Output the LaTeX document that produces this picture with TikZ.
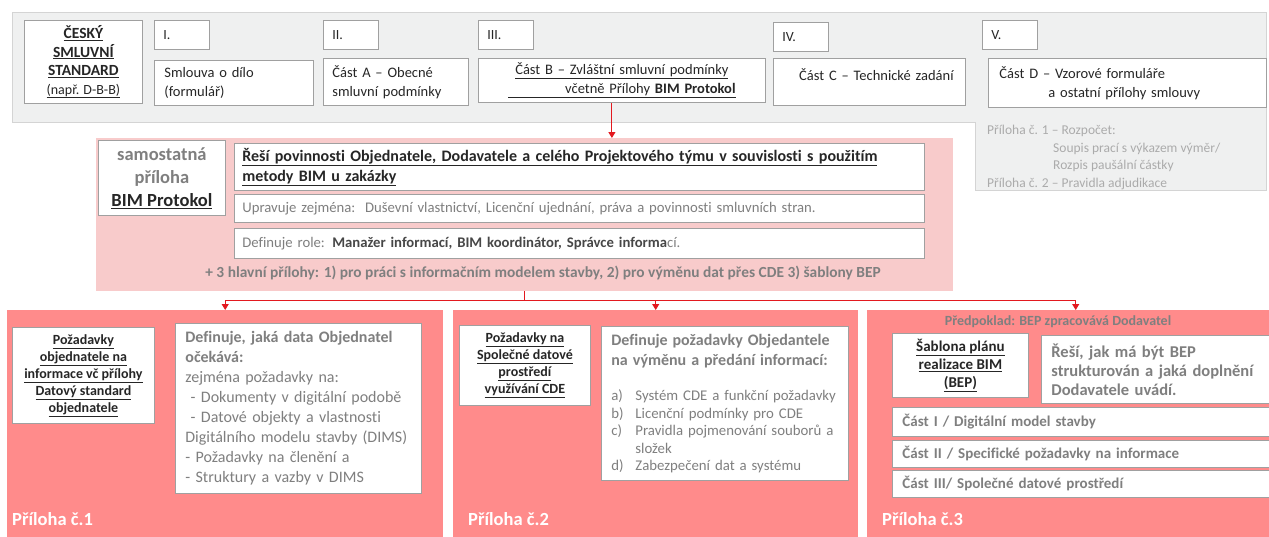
\documentclass[tikz,border=0pt]{standalone}
\usepackage{fontspec}
\setmainfont{Carlito}[Ligatures={NoCommon}]
\usetikzlibrary{arrows.meta}
\definecolor{bggray}{HTML}{EFF0F0}
\definecolor{bgline}{HTML}{D4D4D4}
\definecolor{lightpink}{HTML}{F8CBCB}
\definecolor{salmon}{HTML}{FF8B8B}
\definecolor{linered}{HTML}{E3191F}
\definecolor{boxline}{HTML}{A0A0A0}
\definecolor{txtgray}{HTML}{7F7F7F}
\definecolor{txtlight}{HTML}{ABABAB}
\definecolor{txtdark}{HTML}{262626}
\newcommand\fsz[2]{\fontsize{#1}{#2}\selectfont}

\begin{document}
\begin{tikzpicture}[x=1pt,y=-1pt,
    box/.style={draw=boxline, fill=white, line width=0.8pt, anchor=north west,
      inner ysep=0pt, text=txtdark},
    wh/.style n args={2}{minimum width=#1pt, minimum height=#2pt},
    romanbox/.style={box, wh={55}{29}, inner xsep=9pt, text width=37pt,
      align=left, font=\fsz{14}{17}},
    panel/.style={fill=salmon, anchor=north west, inner sep=0pt},
    panellabel/.style={anchor=west, inner sep=0pt, text=white,
      font=\bfseries\fsz{18.5}{22}},
    redline/.style={draw=linered, line width=1pt},
    redarrow/.style={redline, -{Triangle[width=7pt,length=6pt]}}]
  \useasboundingbox (0,0) rectangle (1269,536);

  % smlouva
  \path[fill=bggray, draw=bgline] (12,12) -- (1266,12) -- (1266,190) -- (975,190)
    -- (975,122) -- (12,122) -- cycle;
  \node[box, wh={118}{83}, inner xsep=0pt, align=center,
    font=\bfseries\fsz{15.5}{18.5}] (czstd) at (24,20)
    {\underline{ČESKÝ}\\ \underline{SMLUVNÍ}\\ \underline{STANDARD}\\
     {\mdseries\fsz{14}{18.5}\underline{(např. D-B-B)}}};
  \node[romanbox] (r1) at (154,20) {I.};
  \node[romanbox] (r2) at (323,20) {II.};
  \node[romanbox] (r3) at (478,20) {III.};
  \node[romanbox] (r4) at (773,22) {IV.};
  \node[romanbox] (r5) at (982,20) {V.};
  \node[box, wh={159}{45}, inner xsep=10pt, text width=139pt, align=left,
    font=\fsz{14.5}{19}] (smlouva) at (154,60) {Smlouva o dílo\\(formulář)};
  \node[box, wh={145}{47}, inner xsep=9pt, text width=127pt, align=left,
    font=\fsz{14.5}{19}] (castA) at (323,58) {Část A – Obecné\\smluvní podmínky};
  \node[box, wh={287}{44}, inner xsep=0pt, text width=287pt, align=center,
    font=\fsz{14.5}{19}] (castB) at (478,58)
    {\underline{Část B – Zvláštní smluvní podmínky}\\
     \underline{\hspace*{57pt}včetně Přílohy \textbf{BIM Protokol}}};
  \node[box, wh={192}{47}, inner xsep=0pt, text width=192pt, align=center,
    font=\fsz{14.5}{15}] (castC) at (773,58) {\hspace*{14pt}Část C – Technické zadání\\ \mbox{}};
  \node[box, wh={278}{49}, inner xsep=11pt, text width=256pt, align=left,
    font=\fsz{14.5}{19}] (castD) at (988,58)
    {Část D – Vzorové formuláře\\ \hspace*{49pt}a ostatní přílohy smlouvy};
  \node[anchor=north west, inner sep=0pt, align=left, text=txtlight,
    font=\fsz{13.5}{17.5}] (rozpocet) at (987,125)
    {Příloha č. 1 – Rozpočet:\\ \hspace*{66pt}Soupis prací s výkazem výměr/\\
     \hspace*{66pt}Rozpis paušální částky\\ Příloha č. 2 – Pravidla adjudikace};

  % BIM protokol
  \node[fill=lightpink, anchor=north west, inner sep=0pt, wh={857}{153}] (bimbg) at (96,138) {};
  \node[box, wh={127}{75}, inner xsep=0pt, align=center, text=txtgray,
    font=\bfseries\fsz{18.5}{23}] (protokol) at (98,140)
    {samostatná\\ příloha\\ {\color{txtdark}\underline{BIM Protokol}}};
  \node[box, wh={690}{47}, inner xsep=8pt, text width=674pt, align=left,
    font=\bfseries\fsz{16}{20}] (resi) at (234,143)
    {\underline{Řeší povinnosti Objednatele, Dodavatele a celého Projektového týmu v souvislosti s použitím}\\
     \underline{metody BIM u zakázky}};
  \node[box, wh={690}{28}, inner xsep=8pt, text width=674pt, align=left,
    text=txtgray, font=\fsz{14.7}{17}] (upravuje) at (234,194)
    {Upravuje zejména:\ \ Duševní vlastnictví, Licenční ujednání, práva a povinnosti smluvních stran.};
  \node[box, wh={690}{30}, inner xsep=8pt, text width=674pt, align=left,
    text=txtgray, font=\fsz{14.7}{17}] (role) at (234,228)
    {Definuje role: {\color{txtdark!85}\bfseries Manažer informací, BIM koordinátor, Správce informa}cí.};
  \node[inner sep=0pt, text=txtgray, font=\bfseries\fsz{15.4}{17}] (hlavni) at (543,273)
    {+ 3 hlavní přílohy: 1) pro práci s informačním modelem stavby, 2) pro výměnu dat přes CDE 3) šablony BEP};

  % prilohy
  \node[panel, wh={436}{230}] (p1) at (7,310) {};
  \node[panel, wh={405}{230}] (p2) at (453,310) {};
  \node[panel, wh={417}{230}] (p3) at (867,310) {};

  \node[box, wh={142}{96}, inner xsep=0pt, align=center,
    font=\bfseries\fsz{14}{17}] (poz1) at (12,327)
    {\underline{Požadavky}\\ \underline{objednatele na}\\ \underline{informace vč přílohy}\\
     \underline{Datový standard}\\ \underline{objednatele}};
  \node[box, wh={246}{170}, inner xsep=10pt, text width=226pt, align=left,
    text=txtgray, font=\fsz{16}{20}] (def1) at (175,323)
    {\textbf{Definuje, jaká data Objednatel}\\ \textbf{očekává:}\\ zejména požadavky na:\\
     \ - Dokumenty v digitální podobě\\ \ - Datové objekty a vlastnosti\\
     Digitálního modelu stavby (DIMS)\\ - Požadavky na členění a\\ - Struktury a vazby v DIMS};
  \node[panellabel] (lab1) at (12,519) {Příloha č.1};

  \node[box, wh={131}{80}, inner xsep=0pt, align=center,
    font=\bfseries\fsz{14}{17}] (poz2) at (459,325)
    {\underline{Požadavky na}\\ \underline{Společné datové}\\ \underline{prostředí}\\
     \underline{využívání CDE}};
  \node[box, wh={247}{154}, inner xsep=10pt, text width=227pt, align=left,
    text=txtgray, font=\fsz{14.8}{17.5}] (def2) at (601,326)
    {{\bfseries\fsz{16}{20}Definuje požadavky Objedantele\\ na výměnu a předání informací:\par}
     \vspace{18pt}
     \makebox[24pt][l]{a)}Systém CDE a funkční požadavky\\
     \makebox[24pt][l]{b)}Licenční podmínky pro CDE\\
     \makebox[24pt][l]{c)}Pravidla pojmenování souborů a\\
     \hspace*{24pt}složek\\
     \makebox[24pt][l]{d)}Zabezpečení dat a systému};
  \node[panellabel] (lab2) at (468,519) {Příloha č.2};

  \node[inner sep=0pt, text=txtgray, font=\bfseries\fsz{14}{17}] (predpoklad) at (1058,322)
    {Předpoklad: BEP zpracovává Dodavatel};
  \node[box, wh={136}{64}, inner xsep=0pt, align=center,
    font=\bfseries\fsz{15}{18}] (sablona) at (892,333)
    {\underline{Šablona plánu}\\ \underline{realizace BIM}\\ \underline{(BEP)}};
  \node[box, wh={240}{68}, inner xsep=10pt, text width=220pt, align=left,
    text=txtgray, font=\bfseries\fsz{16.5}{19}] (resi3) at (1041,335)
    {Řeší, jak má být BEP\\ strukturován a jaká doplnění\\ Dodavatele uvádí.};
  \node[box, wh={390}{29}, inner xsep=10pt, text width=370pt, align=left,
    text=txtgray, font=\bfseries\fsz{15}{18}] (cast1) at (892,407)
    {Část I / Digitální model stavby};
  \node[box, wh={390}{27}, inner xsep=10pt, text width=370pt, align=left,
    text=txtgray, font=\bfseries\fsz{15}{18}] (cast2) at (892,440)
    {Část II / Specifické požadavky na informace};
  \node[box, wh={390}{27}, inner xsep=10pt, text width=370pt, align=left,
    text=txtgray, font=\bfseries\fsz{15}{18}] (cast3) at (892,470)
    {Část III/ Společné datové prostředí};
  \node[panellabel] (lab3) at (882,519) {Příloha č.3};

  % sipky
  \coordinate (bstub) at ([xshift=-10pt]castB.south);
  \draw[redarrow] (bstub) -- (bstub |- bimbg.north);
  \coordinate (split) at ([yshift=-9pt]bimbg.south);
  \draw[redline] (bimbg.south) -- (split);
  \draw[redarrow] (split) -| (p1.north);
  \draw[redarrow] (split) -| (p2.north);
  \draw[redarrow] (split) -| (p3.north);
\end{tikzpicture}
\end{document}
